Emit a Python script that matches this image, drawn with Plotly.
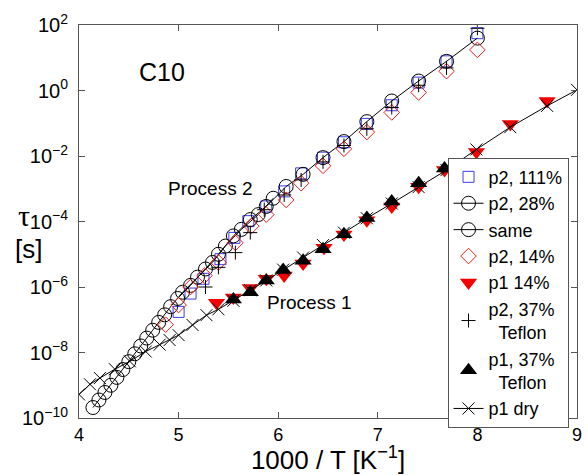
import numpy as np
import plotly.graph_objects as go

# ---- data: inverse temperature 1000/T [1/K] and log10 of relaxation time tau [s] ----
x_p2_111 = [8.00, 7.69, 7.41, 7.14, 6.89, 6.66, 6.45, 6.23, 6.06, 5.88, 5.70, 5.56, 5.42, 5.25, 5.12, 5.00]
lg_p2_111 = [1.75, 0.89, 0.24, -0.45, -1.02, -1.58, -2.05, -2.53, -3.08, -3.54, -3.99, -4.50, -5.15, -5.75, -6.20, -6.76]

x_p2_28 = [8.00, 7.69, 7.41, 7.14, 6.89, 6.66, 6.45, 6.25, 6.08, 5.88, 5.72, 5.55, 5.40, 5.27, 5.12, 4.99]
lg_p2_28 = [1.60, 0.89, 0.29, -0.32, -0.95, -1.56, -2.05, -2.56, -2.93, -3.54, -3.94, -4.44, -5.00, -5.45, -5.95, -6.35]

x_same = [5.95, 5.80, 5.63, 5.47, 5.34, 5.19, 5.04, 4.92, 4.86, 4.80, 4.74, 4.68, 4.62,
          4.56, 4.50, 4.44, 4.38, 4.32, 4.26, 4.20, 4.14]
lg_same = [-3.29, -3.79, -4.24, -4.75, -5.25, -5.70, -6.16, -6.60, -6.85, -7.08, -7.32, -7.56, -7.80,
           -8.04, -8.28, -8.52, -8.76, -9.00, -9.22, -9.45, -9.68]

x_p2_14 = [8.00, 7.69, 7.41, 7.14, 6.89, 6.66, 6.45, 6.23, 6.08, 5.88, 5.73, 5.57, 5.40, 5.26, 5.12, 5.00, 4.87]
lg_p2_14 = [1.24, 0.59, -0.06, -0.67, -1.27, -1.78, -2.30, -2.83, -3.34, -3.79, -4.14, -4.65, -5.25, -5.65, -6.00, -6.55, -7.15]

x_p1_14 = [5.38, 5.55, 5.72, 5.88, 6.06, 6.25, 6.46, 6.66, 6.89, 7.14, 7.41, 7.67, 7.99, 8.33, 8.70]
lg_p1_14 = [-6.48, -6.32, -6.03, -5.75, -5.65, -5.28, -4.80, -4.40, -3.96, -3.54, -2.94, -2.43, -1.88, -1.02, -0.32]

x_p2_37 = [8.00, 7.69, 7.41, 7.14, 6.89, 6.66, 6.45, 6.23, 6.06, 5.86, 5.72, 5.57, 5.40, 5.27]
lg_p2_37 = [1.90, 0.69, 0.16, -0.52, -1.17, -1.68, -2.18, -2.73, -3.19, -3.64, -4.34, -4.95, -5.40, -6.00]

x_p1_37 = [5.55, 5.72, 5.88, 6.05, 6.25, 6.45, 6.66, 6.89, 7.14, 7.41, 7.67]
lg_p1_37 = [-6.38, -6.16, -5.80, -5.48, -5.20, -4.85, -4.39, -3.89, -3.39, -2.83, -2.38]

x_p1_dry = [4.00, 4.11, 4.21, 4.36, 4.51, 4.67, 4.81, 4.91, 5.00, 5.14, 5.28, 5.40, 5.55, 5.72,
            5.88, 6.05, 6.25, 6.45, 6.66, 6.89, 7.14, 7.41, 7.69, 7.99, 8.33, 8.70, 9.00]
lg_p1_dry = [-9.28, -8.97, -8.78, -8.51, -8.27, -7.97, -7.76, -7.62, -7.47, -7.16, -6.86, -6.68, -6.42, -6.10,
             -5.80, -5.47, -5.10, -4.72, -4.34, -3.90, -3.45, -2.95, -2.43, -1.80, -1.12, -0.47, 0.02]

y_tick_exp = [-10, -8, -6, -4, -2, 0, 2]
y_tick_text = ["10<sup>−10</sup>", "10<sup>−8</sup>", "10<sup>−6</sup>", "10<sup>−4</sup>",
               "10<sup>−2</sup>", "10<sup>0</sup>", "10<sup>2</sup>"]
x_ticks = [4, 5, 6, 7, 8, 9]

FONT = "Liberation Sans, Arial, Helvetica, sans-serif"
BLACK = "black"
BLUE = "rgb(60,60,235)"
RED = "rgb(235,30,30)"
RED_FILL = "rgb(245,0,0)"


def tau(lg):
    return np.power(10.0, np.asarray(lg, dtype=float))


fig = go.Figure()

fig.add_trace(go.Scatter(
    x=x_p2_111, y=tau(lg_p2_111), mode="markers", name="p2, 111%",
    marker=dict(symbol="square-open", size=11, color=BLUE, line=dict(color=BLUE, width=1))))

fig.add_trace(go.Scatter(
    x=x_p2_28, y=tau(lg_p2_28), mode="lines+markers", name="p2, 28%",
    line=dict(color=BLACK, width=1),
    marker=dict(symbol="circle-open", size=14, color=BLACK, line=dict(color=BLACK, width=1))))

fig.add_trace(go.Scatter(
    x=x_same, y=tau(lg_same), mode="lines+markers", name="same",
    line=dict(color=BLACK, width=1),
    marker=dict(symbol="circle-open", size=14, color=BLACK, line=dict(color=BLACK, width=1))))

fig.add_trace(go.Scatter(
    x=x_p2_14, y=tau(lg_p2_14), mode="markers", name="p2, 14%",
    marker=dict(symbol="diamond-open", size=12, color=RED, line=dict(color=RED, width=1))))

fig.add_trace(go.Scatter(
    x=x_p1_14, y=tau(lg_p1_14), mode="markers", name="p1 14%",
    marker=dict(symbol="triangle-down", size=15, color=RED_FILL, line=dict(width=0))))

fig.add_trace(go.Scatter(
    x=x_p2_37, y=tau(lg_p2_37), mode="markers", name="p2, 37%<br>\u00a0\u00a0Teflon",
    marker=dict(symbol="cross-thin-open", size=10, color=BLACK, line=dict(color=BLACK, width=1))))

fig.add_trace(go.Scatter(
    x=x_p1_37, y=tau(lg_p1_37), mode="markers", name="p1, 37%<br>\u00a0\u00a0Teflon",
    marker=dict(symbol="triangle-up", size=15, color=BLACK, line=dict(width=0))))

fig.add_trace(go.Scatter(
    x=x_p1_dry, y=tau(lg_p1_dry), mode="lines+markers", name="p1 dry",
    line=dict(color=BLACK, width=1),
    marker=dict(symbol="x-thin-open", size=12, color=BLACK, line=dict(color=BLACK, width=1))))

axis_common = dict(
    showline=True, linecolor="#555", linewidth=1, mirror="ticks",
    ticks="inside", ticklen=6, tickcolor="#555", tickwidth=1,
    showgrid=False, zeroline=False,
)

fig.update_xaxes(
    range=[4, 9], tickvals=x_ticks, **axis_common,
    tickfont=dict(family=FONT, size=18, color=BLACK),
    title=dict(text="1000 / T [K<sup>−1</sup>]", font=dict(family=FONT, size=26, color=BLACK), standoff=6),
)
fig.update_yaxes(
    type="log", range=[-10, 2], tickvals=tau(y_tick_exp), ticktext=y_tick_text, **axis_common,
    tickfont=dict(family=FONT, size=20, color=BLACK), ticklabelstandoff=6,
)

# in-plot labels (y given in decades, as the axis is logarithmic)
fig.add_annotation(text="C10", x=4.83, y=0.55, showarrow=False,
                   font=dict(family=FONT, size=25, color=BLACK))
fig.add_annotation(text="Process 2", x=5.32, y=-2.98, showarrow=False,
                   font=dict(family=FONT, size=19, color=BLACK))
fig.add_annotation(text="Process 1", x=6.31, y=-6.46, showarrow=False,
                   font=dict(family=FONT, size=19, color=BLACK))
# y-axis label drawn as two stacked pieces of text left of the tick labels
fig.add_annotation(text="τ", xref="paper", yref="paper", x=-0.11, y=0.515, showarrow=False,
                   xanchor="center", font=dict(family="Liberation Serif, serif", size=30, color=BLACK))
fig.add_annotation(text="[s]", xref="paper", yref="paper", x=-0.102, y=0.43, showarrow=False,
                   xanchor="center", font=dict(family=FONT, size=26, color=BLACK))

fig.update_layout(
    width=588, height=475,
    margin=dict(l=79, r=6, t=25, b=53),
    paper_bgcolor="white", plot_bgcolor="white",
    showlegend=True,
    legend=dict(
        x=0.74, y=0.6625, xanchor="left", yanchor="top",
        bgcolor="white", bordercolor="#555", borderwidth=1,
        font=dict(family=FONT, size=18, color=BLACK),
        itemwidth=30, tracegroupgap=0,
    ),
)

fig.write_html("out.html")
